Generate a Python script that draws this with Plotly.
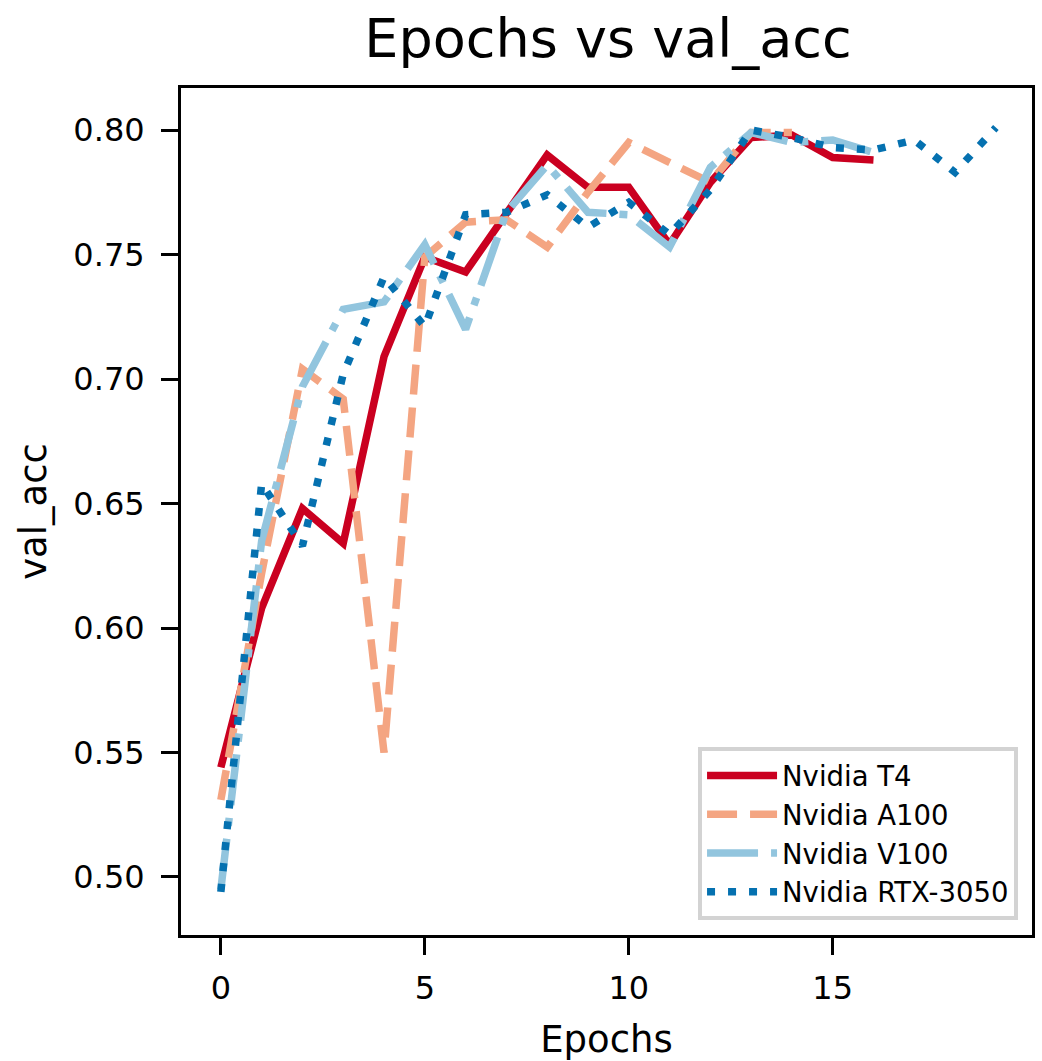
import plotly.graph_objects as go

# ---- data ----
epochs_t4 = list(range(17))
val_acc_t4 = [0.544, 0.608, 0.648, 0.634, 0.709, 0.749, 0.743, 0.766, 0.790, 0.777,
              0.777, 0.754, 0.779, 0.797, 0.798, 0.789, 0.788]

epochs_a100 = list(range(15))
val_acc_a100 = [0.531, 0.622, 0.704, 0.692, 0.550, 0.749, 0.763, 0.764, 0.753, 0.775,
                0.795, 0.787, 0.779, 0.799, 0.799]

epochs_v100 = list(range(17))
val_acc_v100 = [0.495, 0.635, 0.697, 0.728, 0.731, 0.754, 0.720, 0.767, 0.786, 0.767,
                0.766, 0.753, 0.785, 0.799, 0.795, 0.796, 0.791]

epochs_rtx = list(range(20))
val_acc_rtx = [0.494, 0.658, 0.633, 0.702, 0.741, 0.721, 0.766, 0.767, 0.774, 0.761,
               0.771, 0.758, 0.776, 0.800, 0.797, 0.793, 0.792, 0.796, 0.783, 0.801]

series_names = ["Nvidia T4", "Nvidia A100", "Nvidia V100", "Nvidia RTX-3050"]
colors = ["#ca0020", "#f4a582", "#92c5de", "#0571b0"]
dashes = ["solid", "30px,13px", "51px,13px,8px,13px", "8px,13px"]

xs = [epochs_t4, epochs_a100, epochs_v100, epochs_rtx]
ys = [val_acc_t4, val_acc_a100, val_acc_v100, val_acc_rtx]

x_tickvals = [0, 5, 10, 15]
y_tickvals = [0.50, 0.55, 0.60, 0.65, 0.70, 0.75, 0.80]
y_ticktext = ["0.50", "0.55", "0.60", "0.65", "0.70", "0.75", "0.80"]

FONT = "DejaVu Sans, Verdana, sans-serif"

fig = go.Figure()
for name, x, y, c, d in zip(series_names, xs, ys, colors, dashes):
    fig.add_trace(go.Scatter(x=x, y=y, mode="lines", name=name,
                             line=dict(color=c, width=7.5, dash=d)))

W, H = 1042, 1061
L, R, T, B = 181, 7, 88, 126

fig.update_layout(
    width=W, height=H,
    margin=dict(l=L, r=R, t=T, b=B, pad=0),
    paper_bgcolor="white", plot_bgcolor="white",
    font=dict(family=FONT, color="black", size=32),
    title=dict(text="Epochs vs val_acc", x=(L + (W - R)) / 2 / W, xanchor="center",
               y=1 - 38 / H, yanchor="middle", yref="container",
               font=dict(family=FONT, size=54, color="black")),
    legend=dict(x=0.9836, y=0.0177, xanchor="right", yanchor="bottom",
                bgcolor="white", bordercolor="#d3d3d3", borderwidth=4,
                font=dict(family=FONT, size=27.5, color="black"),
                itemwidth=70),
    showlegend=True,
)

fig.update_xaxes(range=[-0.977, 19.886], showgrid=False, zeroline=False,
                 showline=True, linecolor="black", linewidth=3, mirror=True,
                 ticks="outside", ticklen=17, tickwidth=3, tickcolor="black",
                 tickvals=x_tickvals, ticktext=[str(v) for v in x_tickvals],
                 tickfont=dict(family=FONT, size=32, color="black"),
                 ticklabelstandoff=6,
                 title=dict(text="Epochs", font=dict(family=FONT, size=37, color="black"),
                            standoff=20))

fig.update_yaxes(range=[0.4767, 0.8169], showgrid=False, zeroline=False,
                 showline=True, linecolor="black", linewidth=3, mirror=True,
                 ticks="outside", ticklen=17, tickwidth=3, tickcolor="black",
                 tickvals=y_tickvals, ticktext=y_ticktext,
                 tickfont=dict(family=FONT, size=32, color="black"),
                 ticklabelstandoff=10,
                 title=dict(text="val_acc", font=dict(family=FONT, size=37, color="black"),
                            standoff=16))

fig.write_html("out.html")
